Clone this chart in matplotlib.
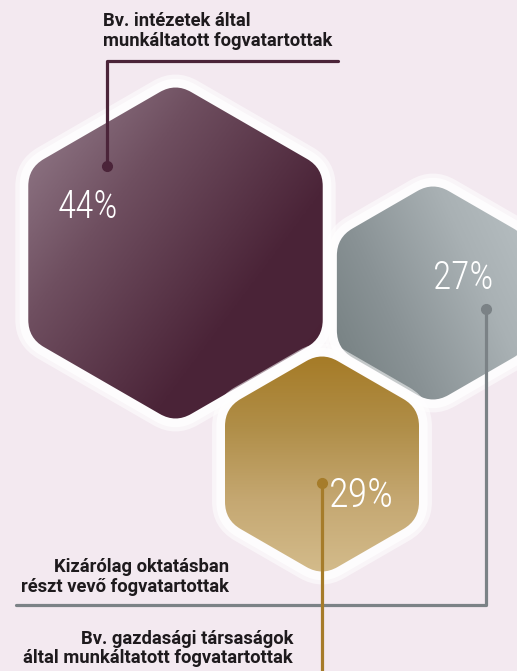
import matplotlib
matplotlib.use("Agg")
import numpy as np
import matplotlib.pyplot as plt
from matplotlib.path import Path
from matplotlib.patches import PathPatch
from matplotlib.colors import LinearSegmentedColormap
from matplotlib import font_manager as fm

# ---------------- data ----------------
categories = [
    "Bv. intézetek által\nmunkáltatott fogvatartottak",
    "Kizárólag oktatásban\nrészt vevő fogvatartottak",
    "Bv. gazdasági társaságok\náltal munkáltatott fogvatartottak",
]
values = [44, 27, 29]
value_labels = ["44%", "27%", "29%"]

# ---------------- styling / layout ----------------
W, H = 517, 671
BG = "#f3e9f0"
line_colors = ["#4b2439", "#7b8286", "#a67c2a"]
grad_stops = [
    ["#9d8896", "#6f4f60", "#4b2438", "#4a2236"],
    ["#6f7a7b", "#899295", "#a9b1b4", "#bcc4c7"],
    ["#a57a25", "#b08e48", "#c5a872", "#d4bc8c"],
]
# gradient direction (dx, dy) in pixel space (y down)
grad_dirs = [(1.0, 0.75), (1.0, -0.45), (0.0, 1.0)]
centers = [(175.5, 253), (433, 293), (322, 464)]
radii = [170, 111, 112]
corner = 18

names = {f.name for f in fm.fontManager.ttflist}
num_font = "Roboto Condensed" if "Roboto Condensed" in names else "DejaVu Sans"
num_kw = dict(fontfamily=num_font, fontweight="light", color="white")
if num_font == "DejaVu Sans":
    num_kw.update(fontstretch="condensed", fontweight="normal")
lab_font = "Roboto" if "Roboto" in names else "DejaVu Sans"

fig = plt.figure(figsize=(W / 100, H / 100), dpi=100, facecolor=BG)
ax = fig.add_axes([0, 0, 1, 1])
ax.set_xlim(0, W)
ax.set_ylim(H, 0)
ax.axis("off")
ax.set_facecolor(BG)


def rounded_hex(cx, cy, R, r):
    angs = np.deg2rad([90, 150, 210, 270, 330, 30])
    V = np.column_stack([cx + R * np.cos(angs), cy - R * np.sin(angs)])
    verts, codes = [], []
    n = len(V)
    for i in range(n):
        v = V[i]
        prv = V[i - 1]
        nxt = V[(i + 1) % n]
        p_in = v + (prv - v) * r / np.linalg.norm(prv - v)
        p_out = v + (nxt - v) * r / np.linalg.norm(nxt - v)
        verts.append(p_in)
        codes.append(Path.MOVETO if i == 0 else Path.LINETO)
        verts += [v, p_out]
        codes += [Path.CURVE3, Path.CURVE3]
    verts.append(verts[0])
    codes.append(Path.CLOSEPOLY)
    return Path(np.array(verts), codes)


for i, ((cx, cy), R) in enumerate(zip(centers, radii)):
    # soft white halo
    ax.add_patch(PathPatch(rounded_hex(cx, cy, R + 15, corner + 8), facecolor="white",
                           edgecolor="none", alpha=0.55, zorder=1 + 3 * i))
    ax.add_patch(PathPatch(rounded_hex(cx, cy, R + 10, corner + 5), facecolor="white",
                           edgecolor="none", alpha=0.75, zorder=1 + 3 * i))
    hexp = PathPatch(rounded_hex(cx, cy, R, corner), facecolor="none",
                     edgecolor="none", zorder=2 + 3 * i)
    ax.add_patch(hexp)
    x0, x1 = cx - R, cx + R
    y0, y1 = cy - R, cy + R
    xs = np.linspace(x0, x1, 300)
    ys = np.linspace(y0, y1, 300)
    X, Y = np.meshgrid(xs, ys)
    dx, dy = grad_dirs[i]
    proj = (X - cx) * dx + (Y - cy) * dy
    t = (proj - proj.min()) / (proj.max() - proj.min())
    cmap = LinearSegmentedColormap.from_list(f"g{i}", grad_stops[i])
    im = ax.imshow(t, cmap=cmap, extent=(x0, x1, y1, y0), origin="upper",
                   interpolation="bilinear", zorder=2 + 3 * i, aspect="auto")
    im.set_clip_path(hexp)

ax.set_xlim(0, W)
ax.set_ylim(H, 0)

# value labels
ax.text(58, 218, value_labels[0], ha="left", va="baseline", fontsize=27, zorder=20, **num_kw)
ax.text(493, 289, value_labels[1], ha="right", va="baseline", fontsize=27, zorder=20, **num_kw)
ax.text(394, 507, value_labels[2], ha="right", va="baseline", fontsize=29, zorder=20, **num_kw)

# leader lines
lw = 2.3
ax.plot([107, 107, 338], [166, 61, 61], color=line_colors[0], lw=lw,
        solid_joinstyle="round", solid_capstyle="round", zorder=30)
ax.plot([107], [166], "o", color=line_colors[0], ms=7, zorder=31)
ax.plot([486, 486, 16], [309, 605, 605], color=line_colors[1], lw=lw,
        solid_joinstyle="round", solid_capstyle="round", zorder=30)
ax.plot([486], [309], "o", color=line_colors[1], ms=7, zorder=31)
ax.plot([322, 322], [483, 680], color=line_colors[2], lw=lw,
        solid_capstyle="round", zorder=30)
ax.plot([322], [483], "o", color=line_colors[2], ms=7, zorder=31)

# category labels
lab_kw = dict(fontfamily=lab_font, fontweight="bold", color="#1e1a1d",
              fontsize=13.2, linespacing=1.08, zorder=40)
ax.text(103, 31, categories[0], ha="left", va="center", multialignment="left", **lab_kw)
ax.text(229, 577, categories[1], ha="right", va="center", multialignment="right", **lab_kw)
ax.text(293, 648.5, categories[2], ha="right", va="center", multialignment="right", **lab_kw)

fig.savefig("out.png", dpi=100, facecolor=BG)
